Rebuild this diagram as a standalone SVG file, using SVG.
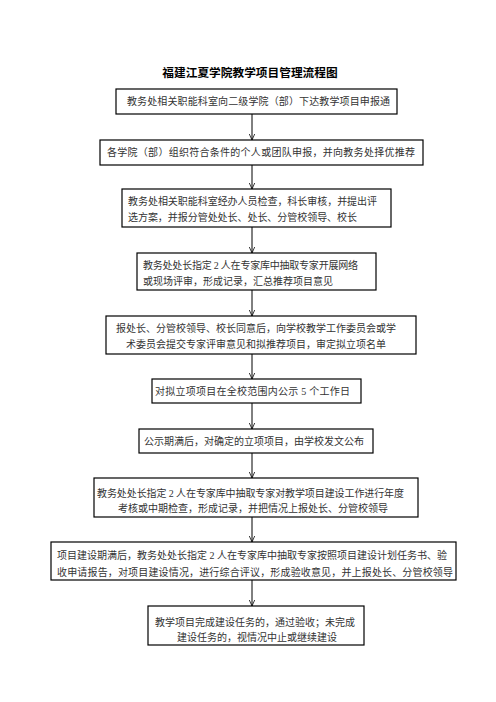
<svg xmlns="http://www.w3.org/2000/svg" width="496" height="702" viewBox="0 0 496 702">
<style>
.bg{fill:#ffffff}
.box{fill:#ffffff;stroke:#000000;stroke-width:1.2}
.t{font-family:"Liberation Serif","Noto Sans CJK SC",serif;font-size:10px;fill:#333333}
.c{text-anchor:middle}
.title{font-family:"Liberation Serif","Noto Sans CJK SC",serif;font-size:11.7px;font-weight:bold;fill:#000000;text-anchor:middle}
.conn{stroke:#000000;stroke-width:1;fill:none}
</style>
<defs>
<marker id="arr" viewBox="0 0 10 10" refX="10" refY="5" markerUnits="userSpaceOnUse" markerWidth="6" markerHeight="6" orient="auto">
<path d="M0,0.5 L10,5 L0,9.5" fill="none" stroke="#000000" stroke-width="1.3"/>
</marker>
</defs>
<rect class="bg" x="0" y="0" width="496" height="702"/>
<text class="title" x="250" y="77">福建江夏学院教学项目管理流程图</text>
<g id="connectors">
<line class="conn" x1="252" y1="114" x2="252" y2="140" marker-end="url(#arr)"/>
<line class="conn" x1="252" y1="165" x2="252" y2="189" marker-end="url(#arr)"/>
<line class="conn" x1="252" y1="227" x2="252" y2="253" marker-end="url(#arr)"/>
<line class="conn" x1="252" y1="290" x2="252" y2="316" marker-end="url(#arr)"/>
<line class="conn" x1="252" y1="354" x2="252" y2="379" marker-end="url(#arr)"/>
<line class="conn" x1="252" y1="403" x2="252" y2="429" marker-end="url(#arr)"/>
<line class="conn" x1="252" y1="453" x2="252" y2="478" marker-end="url(#arr)"/>
<line class="conn" x1="252" y1="517" x2="252" y2="542" marker-end="url(#arr)"/>
<line class="conn" x1="252" y1="580" x2="252" y2="606" marker-end="url(#arr)"/>
</g>
<g id="n1">
<rect class="box" x="116" y="89" width="281" height="25"/>
<text class="t" x="127" y="105" textLength="263" lengthAdjust="spacing">教务处相关职能科室向二级学院（部）下达教学项目申报通</text>
</g>
<g id="n2">
<rect class="box" x="100" y="140" width="323" height="25"/>
<text class="t" x="107" y="156" textLength="308" lengthAdjust="spacing">各学院（部）组织符合条件的个人或团队申报，并向教务处择优推荐</text>
</g>
<g id="n3">
<rect class="box" x="122" y="189" width="269" height="38"/>
<text class="t" x="128" y="205" textLength="249" lengthAdjust="spacing">教务处相关职能科室经办人员检查，科长审核，并提出评</text>
<text class="t" x="128" y="221" textLength="229" lengthAdjust="spacing">选方案，并报分管处处长、处长、分管校领导、校长</text>
</g>
<g id="n4">
<rect class="box" x="137" y="253" width="239" height="37"/>
<text class="t" x="143" y="269" textLength="215" lengthAdjust="spacing">教务处处长指定 2 人在专家库中抽取专家开展网络</text>
<text class="t" x="143" y="285" textLength="190" lengthAdjust="spacing">或现场评审，形成记录，汇总推荐项目意见</text>
</g>
<g id="n5">
<rect class="box" x="106" y="316" width="310" height="38"/>
<text class="t c" x="256" y="332">报处长、分管校领导、校长同意后，向学校教学工作委员会或学</text>
<text class="t c" x="256" y="348">术委员会提交专家评审意见和拟推荐项目，审定拟立项名单</text>
</g>
<g id="n6">
<rect class="box" x="152" y="379" width="209" height="24"/>
<text class="t" x="155" y="395" textLength="195" lengthAdjust="spacing">对拟立项项目在全校范围内公示 5 个工作日</text>
</g>
<g id="n7">
<rect class="box" x="139" y="429" width="234" height="24"/>
<text class="t" x="144" y="445" textLength="220" lengthAdjust="spacing">公示期满后，对确定的立项项目，由学校发文公布</text>
</g>
<g id="n8">
<rect class="box" x="94" y="478" width="324" height="39"/>
<text class="t" x="97" y="497" textLength="307" lengthAdjust="spacing">教务处处长指定 2 人在专家库中抽取专家对教学项目建设工作进行年度</text>
<text class="t c" x="253" y="512">考核或中期检查，形成记录，并把情况上报处长、分管校领导</text>
</g>
<g id="n9">
<rect class="box" x="51" y="542" width="405" height="38"/>
<text class="t" x="57" y="559" textLength="390" lengthAdjust="spacing">项目建设期满后，教务处处长指定 2 人在专家库中抽取专家按照项目建设计划任务书、验</text>
<text class="t" x="57" y="576" textLength="396" lengthAdjust="spacing">收申请报告，对项目建设情况，进行综合评议，形成验收意见，并上报处长、分管校领导</text>
</g>
<g id="n10">
<rect class="box" x="148" y="606" width="216" height="39"/>
<text class="t" x="155" y="626" textLength="200" lengthAdjust="spacing">教学项目完成建设任务的，通过验收；未完成</text>
<text class="t" x="177" y="641" textLength="160" lengthAdjust="spacing">建设任务的，视情况中止或继续建设</text>
</g>
</svg>
